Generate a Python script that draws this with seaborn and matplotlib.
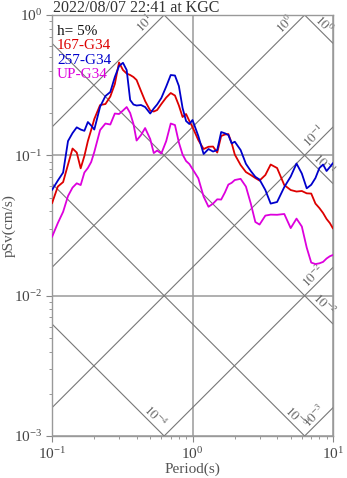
import numpy as np
import pandas as pd
import matplotlib
matplotlib.use("Agg")
import matplotlib.pyplot as plt
import seaborn as sns
from matplotlib.ticker import LogLocator, LogFormatterMathtext, NullFormatter

# ---- data ----
periods = [0.10, 0.11, 0.12, 0.13, 0.14, 0.15, 0.16, 0.17, 0.18, 0.19, 0.20,
           0.22, 0.24, 0.26, 0.28, 0.30, 0.32, 0.34, 0.36, 0.38, 0.40,
           0.43, 0.46, 0.50, 0.53, 0.56, 0.60, 0.65, 0.70, 0.75, 0.80, 0.85, 0.90, 0.95,
           1.0, 1.1, 1.2, 1.3, 1.4, 1.5, 1.6, 1.7, 1.8, 1.9, 2.0,
           2.2, 2.4, 2.6, 2.8, 3.0, 3.3, 3.6, 4.0,
           4.5, 5.0, 5.5, 6.0, 6.5, 7.0, 7.5, 8.0, 8.5, 9.0, 9.5, 10.0]

psv_167 = [0.0455, 0.0599, 0.0645, 0.0860, 0.1118, 0.1047, 0.0808, 0.0989, 0.1264, 0.1515,
           0.1815, 0.2283, 0.2320, 0.2625, 0.3223, 0.4586, 0.4055, 0.3828, 0.3735, 0.3614,
           0.3441, 0.2873, 0.2438, 0.2086, 0.2052, 0.2103, 0.2320, 0.2582, 0.2780, 0.2668,
           0.2265, 0.1875, 0.1970, 0.1756, 0.1591, 0.1285, 0.1109, 0.1151, 0.1155, 0.1047,
           0.1373, 0.1407, 0.1418, 0.1224, 0.1013, 0.0853, 0.0760, 0.0724, 0.0689, 0.0661,
           0.0724, 0.0860, 0.0812, 0.0614, 0.0566, 0.0552, 0.0557, 0.0536, 0.0534, 0.0453,
           0.0421, 0.0388, 0.0352, 0.0329, 0.0301]

psv_257 = [0.0566, 0.0661, 0.0754, 0.1264, 0.1441, 0.1583, 0.1527, 0.1495, 0.1727, 0.1631,
           0.1527, 0.2221, 0.2646, 0.2826, 0.3614, 0.4330, 0.4563, 0.4055, 0.2478, 0.2302,
           0.2265, 0.2283, 0.2209, 0.1986, 0.2156, 0.2302, 0.2561, 0.3093, 0.3735, 0.3705,
           0.3118, 0.2174, 0.1756, 0.1672, 0.1785, 0.1373, 0.1022, 0.1109, 0.1064, 0.1091,
           0.1466, 0.1435, 0.1395, 0.1217, 0.1250, 0.1091, 0.0870, 0.0773, 0.0703, 0.0672,
           0.0566, 0.0453, 0.0465, 0.0594, 0.0706, 0.0874, 0.0742, 0.0582, 0.0617, 0.0689,
           0.0812, 0.0860, 0.0773, 0.0825, 0.0881]

psv_up = [0.0262, 0.0329, 0.0396, 0.0513, 0.0589, 0.0632, 0.0614, 0.0754, 0.0812, 0.0896,
          0.1056, 0.1515, 0.1685, 0.1658, 0.1986, 0.1970, 0.2086, 0.2209, 0.2002, 0.1672,
          0.1275, 0.1395, 0.1565, 0.1307, 0.1038, 0.1082, 0.1030, 0.1264, 0.1685, 0.1644,
          0.1234, 0.1013, 0.0911, 0.0867, 0.0799, 0.0686, 0.0508, 0.0430, 0.0453, 0.0486,
          0.0484, 0.0543, 0.0619, 0.0637, 0.0667, 0.0680, 0.0599, 0.0453, 0.0335, 0.0321,
          0.0372, 0.0378, 0.0377, 0.0382, 0.0303, 0.0354, 0.0311, 0.0220, 0.0172, 0.0168,
          0.0170, 0.0174, 0.0184, 0.0191, 0.0195]

series_names = ["167-G34", "257-G34", "UP-G34"]
series_colors = ["#dd0000", "#0000cc", "#dd00dd"]
accel_exponents = [1, 0, -1, -2, -3]      # constant acceleration lines (cm/s^2)
disp_exponents = [0, -1, -2, -3, -4]      # constant displacement lines (cm)
title_text = "2022/08/07 22:41 at KGC"
damping_text = "h= 5%"
x_label = "Period(s)"
y_label = "pSv(cm/s)"

# ---- style ----
sns.set_style("ticks")
plt.rcParams["font.family"] = ["Liberation Serif", "DejaVu Serif"]
plt.rcParams["mathtext.fontset"] = "stix"

W, H = 347, 478
fig = plt.figure(figsize=(W / 100, H / 100), dpi=100)
ax = fig.add_axes([52 / W, 1 - 436 / H, 281 / W, 421 / H])

df = pd.concat([
    pd.DataFrame({"period": periods, "psv": vals, "comp": name})
    for name, vals in zip(series_names, [psv_167, psv_257, psv_up])
], ignore_index=True)

ax.set_xscale("log")
ax.set_yscale("log")
xmin, xmax, ymin, ymax = 0.1, 10.0, 1e-3, 1.0

# tripartite diagonal lines
grid_col = "#777777"
lab_col = "#666666"
tg = np.logspace(-1, 1, 300)
for e in accel_exponents:
    a = 10.0 ** e
    ax.plot(tg, a * tg / (2 * np.pi), color=grid_col, lw=0.8, zorder=1)
    t_end = min(xmax, 2 * np.pi * ymax / a)
    p_end = a * t_end / (2 * np.pi)
    ax.annotate(rf"$10^{{{e}}}$", xy=(t_end, p_end), xytext=(-19, -9),
                textcoords="offset pixels", rotation=45, ha="center", va="center",
                rotation_mode="anchor", fontsize=9.5, color=lab_col, zorder=2)
for e in disp_exponents:
    d = 10.0 ** e
    ax.plot(tg, 2 * np.pi * d / tg, color=grid_col, lw=0.8, zorder=1)
    t_end = min(xmax, 2 * np.pi * d / ymin)
    p_end = 2 * np.pi * d / t_end
    ax.annotate(rf"$10^{{{e}}}$", xy=(t_end, p_end), xytext=(-9, 19),
                textcoords="offset pixels", rotation=-45, ha="center", va="center",
                rotation_mode="anchor", fontsize=9.5, color=lab_col, zorder=2)

sns.lineplot(data=df, x="period", y="psv", hue="comp",
             palette=dict(zip(series_names, series_colors)),
             estimator=None, sort=False, legend=False, lw=1.3, ax=ax, zorder=3)

ax.set_xlim(xmin, xmax)
ax.set_ylim(ymin, ymax)
ax.grid(True, which="major", color="#9a9a9a", lw=1.1, zorder=0)
ax.set_axisbelow(True)

ax.xaxis.set_major_locator(LogLocator(base=10, numticks=10))
ax.yaxis.set_major_locator(LogLocator(base=10, numticks=10))
ax.xaxis.set_minor_locator(LogLocator(base=10, subs=np.arange(2, 10), numticks=20))
ax.yaxis.set_minor_locator(LogLocator(base=10, subs=np.arange(2, 10), numticks=20))
ax.xaxis.set_major_formatter(LogFormatterMathtext())
ax.yaxis.set_major_formatter(LogFormatterMathtext())
ax.xaxis.set_minor_formatter(NullFormatter())
ax.yaxis.set_minor_formatter(NullFormatter())
ax.tick_params(which="major", direction="out", length=4, width=0.8, color="#888888",
               labelsize=11, labelcolor="#444444", pad=3)
ax.tick_params(which="minor", direction="out", length=2.5, width=0.6, color="#888888")
for s in ax.spines.values():
    s.set_color("#999999")
    s.set_linewidth(1.0)

ax.set_xlabel(x_label, fontsize=11, color="#555555")
ax.xaxis.set_label_coords(0.5, -(469 - 436) / 421)
ax.xaxis.label.set_va("center")
ax.set_ylabel(y_label, fontsize=11, color="#555555")
ax.yaxis.set_label_coords(-(52 - 9) / 281, 0.5)
ax.yaxis.label.set_va("center")

# in-plot legend text
legend_lines = [(damping_text, "#111111")] + list(zip(series_names, series_colors))
for i, (txt, col) in enumerate(legend_lines):
    ax.text(0.018, 0.9525 - i * 0.0340, txt, transform=ax.transAxes, fontsize=11,
            color=col, ha="left", va="baseline", zorder=4)

fig.text(53 / W, 1 - 11.5 / H, title_text, fontsize=11.5, color="#333333",
         ha="left", va="baseline")

fig.savefig("out.png", dpi=100)
